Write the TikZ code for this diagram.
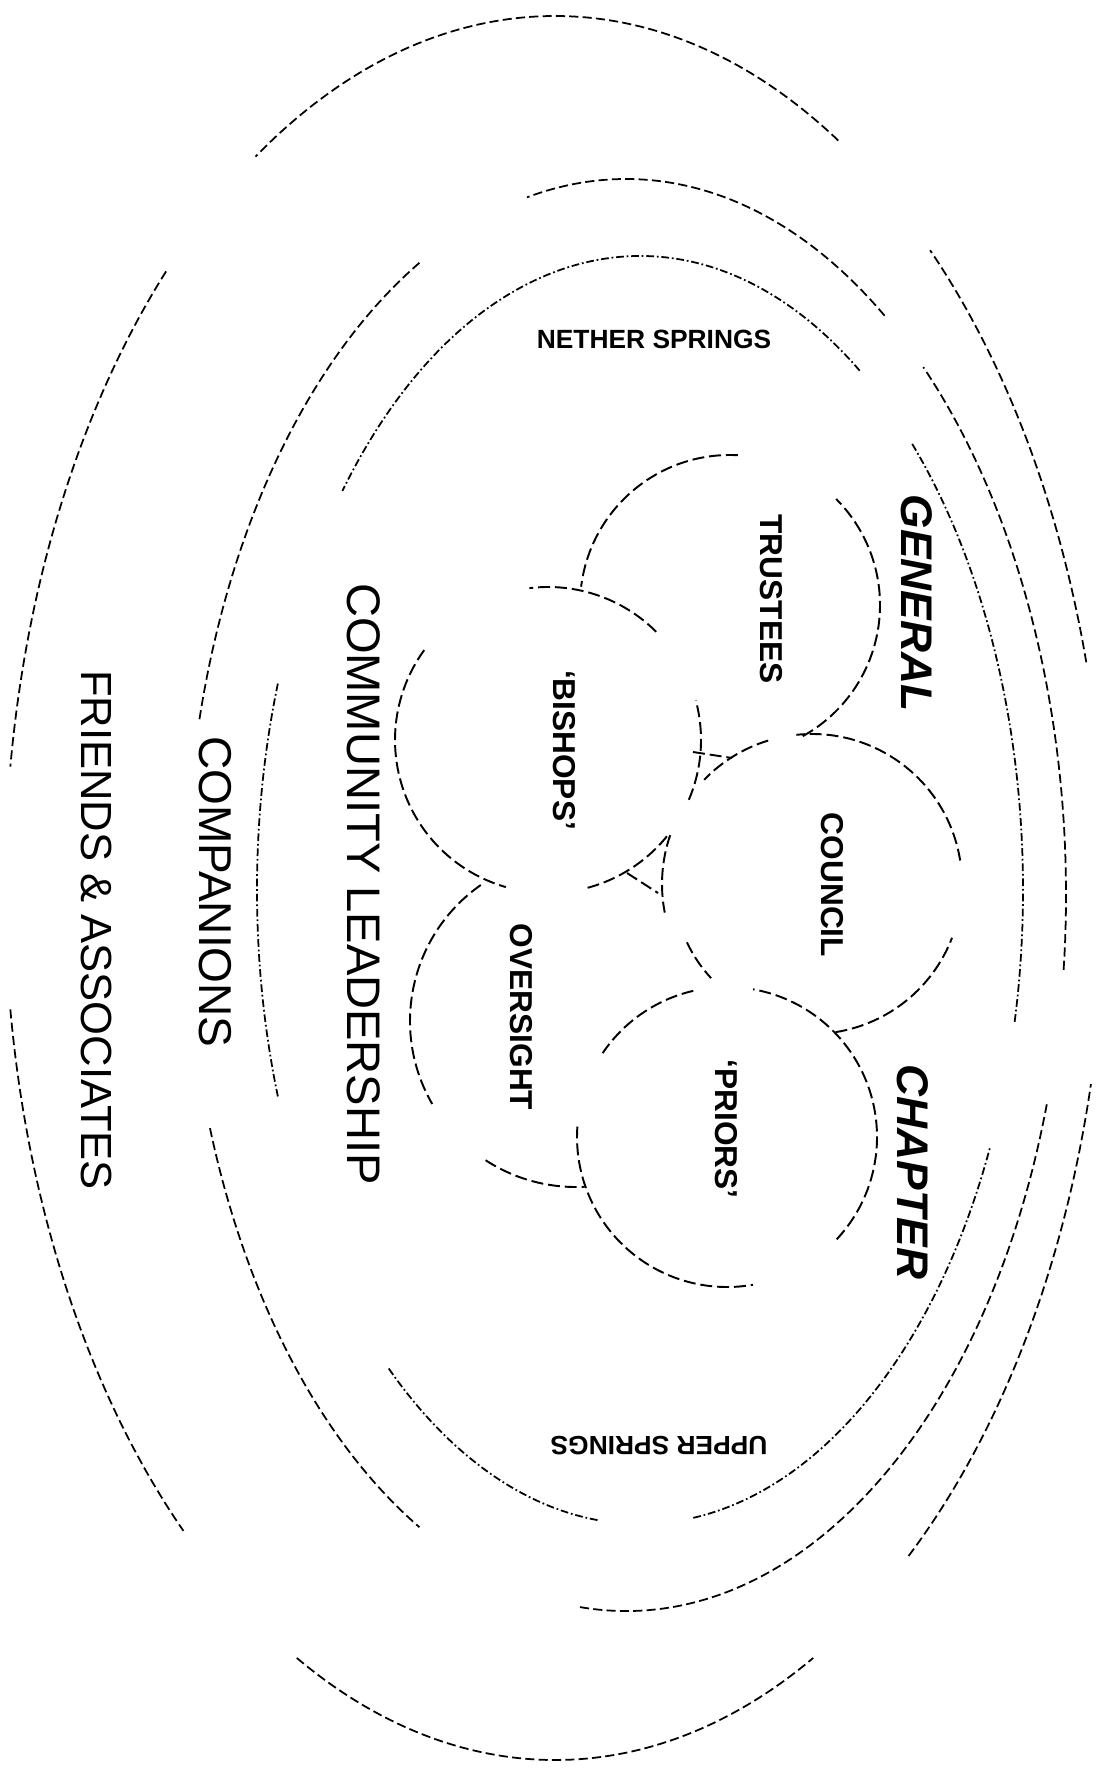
\documentclass[tikz,border=0pt]{standalone}
\usepackage{fontspec}
\setmainfont{Liberation Sans}
\tikzset{
  ring/.style={line width=0.5pt, dash pattern=on 2.6pt off 1.2pt},
  springring/.style={line width=0.5pt, dash pattern=on 2.2pt off 0.8pt on 0.5pt off 0.8pt},
  circ/.style={line width=0.55pt, dash pattern=on 3.4pt off 1.4pt},
  bigtext/.style={rotate=-90, inner sep=0pt, font=\fontsize{13.2}{14}\selectfont},
  innertext/.style={rotate=-90, inner sep=0pt, font=\bfseries\fontsize{9}{10}\selectfont},
  sidetext/.style={rotate=-90, inner sep=0pt, font=\bfseries\itshape\fontsize{12.6}{14}\selectfont},
  springtext/.style={inner sep=0pt, font=\bfseries\fontsize{7.5}{8}\selectfont}
}
\begin{document}
\begin{tikzpicture}[x=0.1mm, y=0.1mm]
  \useasboundingbox[fill=white] (0,0) rectangle (1099,-1769);
  \coordinate (friends) at (555,-888);
  \coordinate (companions) at (626,-895);
  \coordinate (springs) at (640,-890);
  \coordinate (trustees) at (730,-605);
  \coordinate (bishops) at (548,-740);
  \coordinate (council) at (812,-884);
  \coordinate (priors) at (727,-1137);
  \coordinate (oversight) at (576,-1021);

  \foreach \s/\e in {59/123, 135/172, 188/227.5, 242/298, 310/347, 15/47}
    \draw[ring] (friends) ++(\s:550 and 872) arc[start angle=\s, end angle=\e, x radius=550, y radius=872];
  \foreach \s/\e in {54/103, 118/166, 199/242, 264/343, -6/47.5}
    \draw[ring] (companions) ++(\s:440 and 716) arc[start angle=\s, end angle=\e, x radius=440, y radius=716];
  \foreach \s/\e in {55/141, 161/199, 229/264, 278/336, -12/45}
    \draw[springring] (springs) ++(\s:383 and 634) arc[start angle=\s, end angle=\e, x radius=383, y radius=634];

  \foreach \s/\e in {87/173, -61/45}
    \draw[circ] (trustees) ++(\s:150) arc[start angle=\s, end angle=\e, radius=150];
  \foreach \s/\e in {45/97, 144/254, 285/321, -23/15}
    \draw[circ] (bishops) ++(\s:153) arc[start angle=\s, end angle=\e, radius=153];
  \foreach \s/\e in {9/96, 107/136, 161/191, -81/-21}
    \draw[circ] (council) ++(\s:150) arc[start angle=\s, end angle=\e, radius=150];
  \draw[circ] (council) ++(205:138) arc[start angle=205, end angle=223, radius=138];
  \foreach \s/\e in {103/146, 176/280, -43/80}
    \draw[circ] (priors) ++(\s:150) arc[start angle=\s, end angle=\e, radius=150];
  \foreach \s/\e in {125/210, 237/273}
    \draw[circ] (oversight) ++(\s:166) arc[start angle=\s, end angle=\e, radius=166];

  \coordinate (tick1) at (693,-752);
  \coordinate (tick2) at (732,-758);
  \coordinate (tri1) at (627,-873);
  \coordinate (tri2) at (658,-893);
  \draw[circ] (tick1) -- (tick2);
  \draw[circ] (tri1) -- (tri2);

  \node[springtext] (nether) at (654,-339) {NETHER SPRINGS};
  \node[springtext, rotate=180] (upper) at (659,-1446) {UPPER SPRINGS};
  \node[sidetext] (general) at (917,-603) {GENERAL};
  \node[sidetext] (chapter) at (913,-1172) {CHAPTER};
  \node[innertext] (trusteeslbl) at (771,-599) {TRUSTEES};
  \node[innertext] (councillbl) at (832,-885) {COUNCIL};
  \node[innertext] (priorslbl) at (726,-1129) {‘PRIORS’};
  \node[innertext] (bishopslbl) at (564,-750) {‘BISHOPS’};
  \node[innertext] (oversightlbl) at (521,-1017) {OVERSIGHT};
  \node[bigtext, font=\fontsize{13.4}{14}\selectfont] (leadership) at (364,-884) {COMMUNITY LEADERSHIP};
  \node[bigtext, font=\fontsize{13.1}{14}\selectfont] (companionslbl) at (215,-892) {COMPANIONS};
  \node[bigtext, font=\fontsize{12.4}{14}\selectfont] (friendslbl) at (97,-930) {FRIENDS \& ASSOCIATES};
\end{tikzpicture}
\end{document}
